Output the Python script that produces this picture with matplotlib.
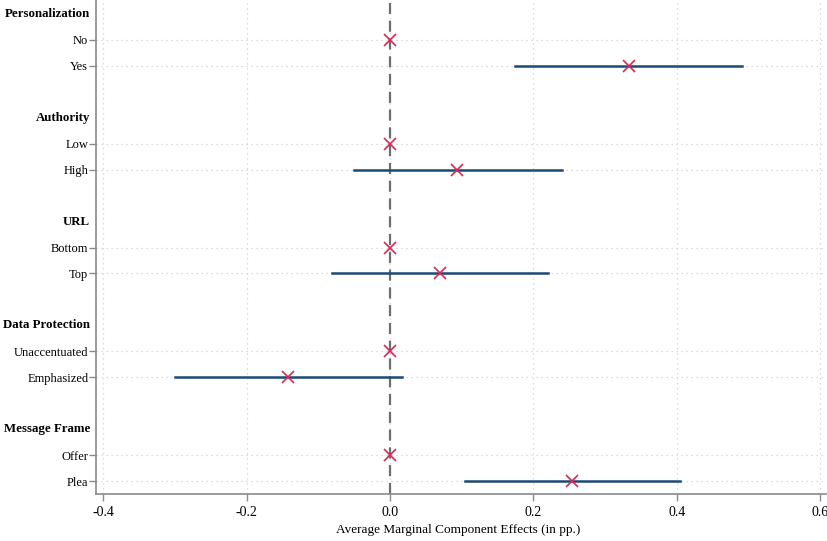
import matplotlib.pyplot as plt
import numpy as np

plt.rcParams['font.family'] = ['Liberation Serif', 'DejaVu Serif']

groups = ["Personalization", "Authority", "URL", "Data Protection", "Message Frame"]
levels = [["No", "Yes"], ["Low", "High"], ["Bottom", "Top"],
          ["Unaccentuated", "Emphasized"], ["Offer", "Plea"]]
# estimate, lower, upper for the second level (first level is the baseline 0)
est = [0.333, 0.094, 0.070, -0.142, 0.254]
lower = [0.174, -0.050, -0.081, -0.300, 0.105]
upper = [0.491, 0.240, 0.220, 0.017, 0.405]

fig = plt.figure(figsize=(8.27, 5.41), dpi=100)
ax = fig.add_axes([96 / 827, 47 / 541, 730 / 827, 494 / 541])

navy = "#1b4b73"
red = "#d62a54"

tick_pos = []
tick_lab = []
for i, g in enumerate(groups):
    base = i * 4
    ax.text(-0.008, base, g, transform=ax.get_yaxis_transform(),
            ha="right", va="center", fontsize=9.3, fontweight="bold")
    # baseline level
    tick_pos.append(base + 1)
    tick_lab.append(levels[i][0])
    ax.plot(0, base + 1, marker="x", color=red, ms=8, mew=1.2, zorder=4)
    # comparison level
    tick_pos.append(base + 2)
    tick_lab.append(levels[i][1])
    ax.plot([lower[i], upper[i]], [base + 2, base + 2], color=navy, lw=1.8, zorder=3)
    ax.plot(est[i], base + 2, marker="x", color=red, ms=8, mew=1.2, zorder=4)

ax.axvline(0, color="#6e6e6e", ls=(0, (5, 3)), lw=1.6, zorder=2)

ax.set_yticks(tick_pos)
ax.set_yticklabels(tick_lab, fontsize=9)
ax.set_ylim(18.5, -0.54)
ax.set_xlim(-0.41, 0.608)
xt = np.arange(-0.4, 0.61, 0.2)
ax.set_xticks(xt)
ax.set_xticklabels(["%.1f" % v if abs(v) > 1e-9 else "0.0" for v in xt], fontsize=10)
fig.text(ax.get_position().x0 + ax.get_position().width * 0.5 - 0.003, 11 / 541,
         "Average Marginal Component Effects (in pp.)", fontsize=9.5,
         ha="center", va="center")

ax.grid(True, color="#d0d0d0", ls=(0, (1, 3)), lw=0.9)
ax.set_axisbelow(True)
for s in ["top", "right"]:
    ax.spines[s].set_visible(False)
for s in ["left", "bottom"]:
    ax.spines[s].set_color("#8a8a8a")
    ax.spines[s].set_linewidth(1.2)
ax.tick_params(axis="both", color="#8a8a8a", length=5, width=1)
ax.tick_params(axis="y", pad=0.5)

fig.savefig("out.png", dpi=100)
